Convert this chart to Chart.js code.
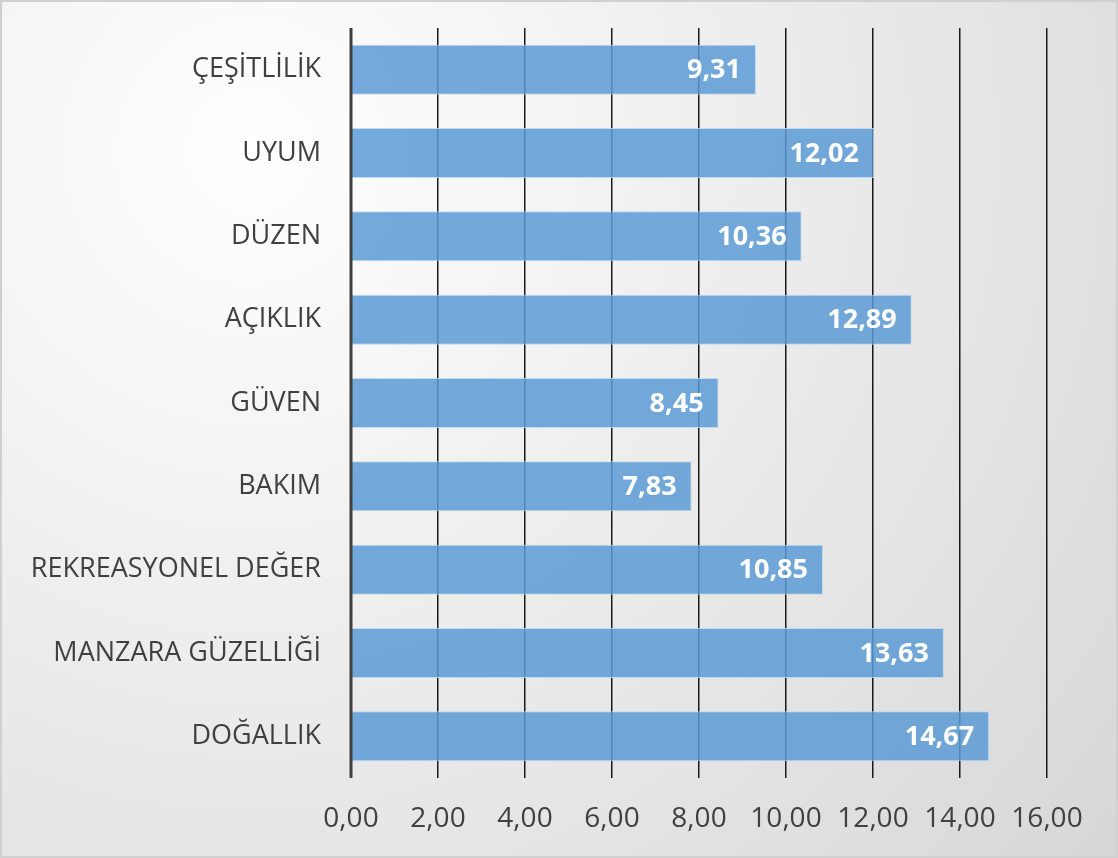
<!DOCTYPE html>
<html>
<head>
<meta charset="utf-8">
<script src="https://cdn.jsdelivr.net/npm/chart.js@4/dist/chart.umd.min.js"></script>
<style>
  html, body { margin: 0; padding: 0; background: #fff; }
  #wrap { width: 1118px; height: 858px; position: relative; }
</style>
</head>
<body>
<div id="wrap"><canvas id="bars" width="1118" height="858"></canvas></div>
<script>
const categories = ['ÇEŞİTLİLİK', 'UYUM', 'DÜZEN', 'AÇIKLIK', 'GÜVEN', 'BAKIM', 'REKREASYONEL DEĞER', 'MANZARA GÜZELLİĞİ', 'DOĞALLIK']
const scores = [9.31, 12.02, 10.36, 12.89, 8.45, 7.83, 10.85, 13.63, 14.67]
const xTicks = [0, 2, 4, 6, 8, 10, 12, 14, 16]

const fmt = v => v.toFixed(2).replace('.', ',')
const fontName = '"Open Sans", "Noto Sans", sans-serif'

// soft grey background with a thin frame, like the office chart
const backdrop = {
  id: 'backdrop',
  beforeDraw( chart ) {
    const ctx = chart.ctx
    const w = chart.width, h = chart.height
    ctx.save()
    const g = ctx.createRadialGradient( 250, 150, 0, 250, 150, 1150 )
    g.addColorStop( 0, '#ffffff' )
    g.addColorStop( 1, '#d6d6d6' )
    ctx.fillStyle = g
    ctx.fillRect( 0, 0, w, h )
    ctx.strokeStyle = '#d0d0d0'
    ctx.lineWidth = 2
    ctx.strokeRect( 1, 1, w - 2, h - 2 )
    ctx.restore()
  }
}

// white value labels at the inner end of each bar
const valueLabels = {
  id: 'valueLabels',
  afterDatasetsDraw( chart ) {
    const ctx = chart.ctx
    const meta = chart.getDatasetMeta( 0 )
    ctx.save()
    ctx.fillStyle = '#ffffff'
    ctx.font = 'bold 27px ' + fontName
    ctx.textAlign = 'right'
    ctx.textBaseline = 'middle'
    meta.data.forEach( ( bar, i ) => {
      ctx.fillText( fmt( scores[ i ] ), bar.x - 15, bar.y + 1 )
    } )
    ctx.restore()
  }
}

// zero line on top
const zeroLine = {
  id: 'zeroLine',
  afterDatasetsDraw( chart ) {
    const ctx = chart.ctx
    const x = chart.scales.x.getPixelForValue( 0 )
    ctx.save()
    ctx.strokeStyle = '#404040'
    ctx.lineWidth = 3
    ctx.beginPath()
    ctx.moveTo( x, chart.chartArea.top )
    ctx.lineTo( x, chart.chartArea.bottom )
    ctx.stroke()
    ctx.restore()
  }
}

const data = {
  labels: categories,
  datasets: [ {
    data: scores,
    backgroundColor: 'rgba(91, 155, 213, 0.85)',
    borderColor: 'rgba(189, 215, 238, 0.9)',
    borderWidth: 1,
    categoryPercentage: 0.6,
    barPercentage: 1
  } ]
}

const config = {
  type: 'bar',
  data: data,
  options: {
    indexAxis: 'y',
    responsive: false,
    animation: false,
    layout: { padding: { top: 28, right: 71, left: 0, bottom: 0 } },
    plugins: {
      legend: { display: false },
      tooltip: { enabled: false }
    },
    scales: {
      x: {
        min: 0,
        max: 16,
        afterBuildTicks: scale => { scale.ticks = xTicks.map( v => ( { value: v } ) ) },
        afterFit: scale => { scale.height = 80 },
        ticks: {
          callback: v => fmt( v ),
          color: '#404040',
          font: { family: fontName, size: 28 },
          padding: 24,
          maxRotation: 0
        },
        grid: { color: '#1a1a1a', lineWidth: 1.5, drawTicks: false },
        border: { display: false }
      },
      y: {
        afterFit: scale => {
          scale.width = 351
          scale.paddingTop = 0
          scale.paddingBottom = 0
        },
        ticks: {
          color: '#404040',
          font: { family: fontName, size: 27 },
          padding: 30
        },
        grid: { display: false, drawTicks: false },
        border: { display: false }
      }
    }
  },
  plugins: [ backdrop, zeroLine, valueLabels ]
}

const graph = new Chart( document.getElementById( 'bars' ), config )
</script>
</body>
</html>
